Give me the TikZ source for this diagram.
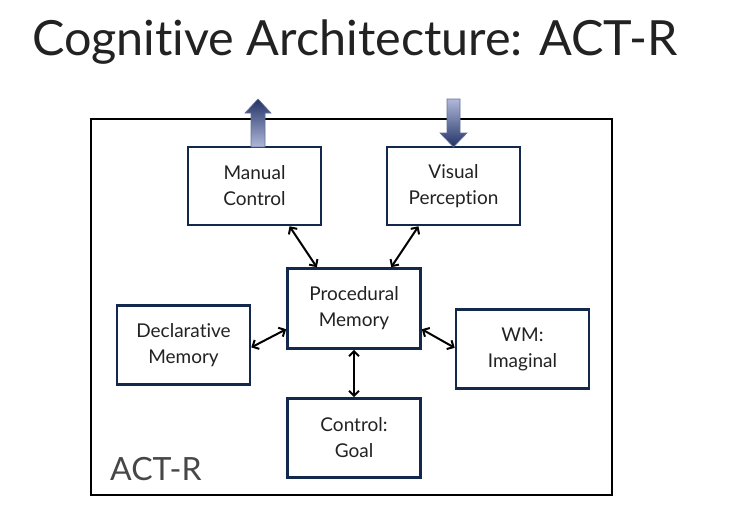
\documentclass[tikz,border=0pt]{standalone}
\usepackage{fontspec}
\setmainfont{Lato}[Ligatures=NoCommon]
\usepackage{tikz}
\usetikzlibrary{arrows.meta}

\definecolor{boxline}{HTML}{13284D}
\definecolor{arrowdark}{HTML}{223366}
\definecolor{arrowlight}{HTML}{B0B8DA}
\definecolor{textgray}{HTML}{222222}

\begin{document}
\begin{tikzpicture}[
  x=1pt, y=-1pt,
  module/.style={draw=boxline, line width=2.6pt, fill=white, align=center,
    minimum width=133pt, minimum height=78pt, inner sep=0pt,
    font=\fontsize{19}{26}\selectfont, text=textgray},
  link/.style={line width=2pt, {Straight Barb[length=5pt,width=10pt]}-{Straight Barb[length=5pt,width=10pt]}},
  blockarrow/.style={draw=arrowdark!70, line width=0.6pt}
]
\useasboundingbox (0,0) rectangle (732,515);

% title
\node[anchor=base west, font=\fontsize{48.5}{58}\selectfont, text=textgray, inner sep=0pt]
  (title) at (32,55) {Cognitive Architecture: ACT-R};

% frame
\draw[line width=2.6pt] (91,119) rectangle (612,495);
\node[anchor=base west, font=\fontsize{32}{36}\selectfont, text=black!72, inner sep=0pt]
  (label) at (110,480) {ACT-R};

% modules
\node[module] (manual) at (254.5,186) {Manual\\Control};
\node[module] (visual) at (453.5,186) {Visual\\Perception};
\node[module, minimum height=80pt] (proc) at (354,308.5) {Procedural\\Memory};
\node[module, minimum height=79pt] (decl) at (183.5,345) {Declarative\\Memory};
\node[module, minimum height=79pt] (wm) at (522.5,349) {WM:\\Imaginal};
\node[module, minimum height=79pt] (goal) at (354,438) {Control:\\Goal};

% connections
\draw[link] (manual.-49) -- (proc.132);
\draw[link] (visual.229) -- (proc.48);
\draw[link] (decl.-2) -- (proc.197);
\draw[link] (proc.-17) -- (wm.179);
\draw[link] (proc.south) -- (goal.north);

% motor output / visual input
\shade[blockarrow, top color=arrowdark, bottom color=arrowlight]
  (251,147) -- (251,113) -- (245,113) -- (258,99) -- (271,113) -- (265,113)
  -- (265,147) -- cycle;
\shade[blockarrow, top color=arrowlight, bottom color=arrowdark]
  (447,99) -- (447,133) -- (440,133) -- (453.5,147) -- (467,133) -- (460,133)
  -- (460,99) -- cycle;

\end{tikzpicture}
\end{document}
